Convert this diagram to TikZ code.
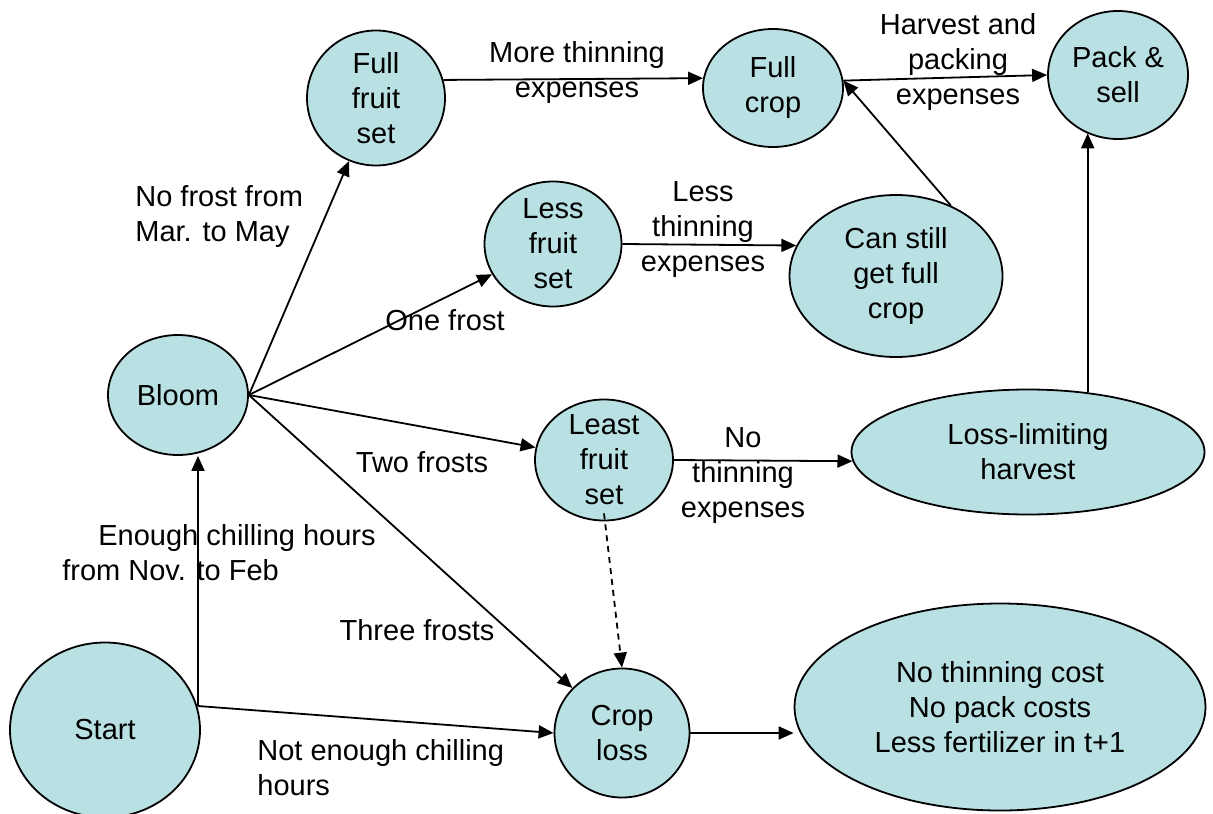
\documentclass[tikz,border=0pt]{standalone}
\usepackage{fontspec}
\setmainfont{Liberation Sans}
\usepackage{xcolor}
\usetikzlibrary{arrows.meta,shapes.geometric,positioning,calc}
\definecolor{stagefill}{RGB}{185,224,227}
\tikzset{%
  % classes
  stage/.style={draw, ellipse, fill=stagefill, line width=0.9pt, align=center,
    inner sep=-10pt, font=\fontsize{14.5}{17.5}\selectfont},
  lbl/.style={align=center, inner sep=0pt, font=\fontsize{14.5}{17.5}\selectfont},
  % edge styles
  rel/.style={-{Triangle[length=7.5pt,width=6.5pt]}, line width=0.9pt},
  maybe/.style={rel, dash pattern=on 3pt off 2.5pt},
}
\begin{document}
\begin{tikzpicture}[x=0.5pt, y=-0.5pt]
  \useasboundingbox (0,0) rectangle (1213,813);

  \node[stage, minimum width=95pt, minimum height=87.5pt] (start) at (105,730) {Start};
  \node[stage, minimum width=70pt, minimum height=60pt] (bloom) at (178,395) {Bloom};
  \node[stage, minimum width=69pt, minimum height=67.5pt] (fullset) at (376,98) {Full\\fruit\\set};
  \node[stage, minimum width=70pt, minimum height=59pt] (fullcrop) at (773,88) {Full\\crop};
  \node[stage, minimum width=70pt, minimum height=64pt] (pack) at (1118,75) {Pack \&\\sell};
  \node[stage, minimum width=68.5pt, minimum height=62.5pt] (lessset) at (553,244) {Less\\fruit\\set};
  \node[stage, minimum width=106.5pt, minimum height=81pt] (canstill) at (896,276) {Can still\\get full\\crop};
  \node[stage, minimum width=69pt, minimum height=60.5pt] (leastset) at (604,460) {Least\\fruit\\set};
  \node[stage, minimum width=176.5pt, minimum height=62.5pt] (losslim) at (1028,452) {Loss-limiting\\harvest};
  \node[stage, minimum width=67.5pt, minimum height=64.5pt] (croploss) at (622,733) {Crop\\loss};
  \node[stage, minimum width=205.5pt, minimum height=103.5pt] (nocost) at (1000,707)
    {No thinning cost\\No pack costs\\Less fertilizer in t+1};

  \coordinate (fork) at (198,706);

  % edges
  \draw[rel] (fork) -- (fork |- bloom.south);
  \draw[rel] (fork) -- (croploss.west);
  \draw[rel] (bloom.east) -- (fullset);
  \draw[rel] (bloom.east) -- (lessset);
  \draw[rel] (bloom.east) -- (leastset);
  \draw[rel] (bloom.east) -- (croploss);
  \draw[rel] (fullset.15) -- (fullcrop.172);
  \draw[rel] (lessset.east) -- (canstill.163);
  \draw[rel] (canstill.52) -- (fullcrop.6);
  \draw[rel] (fullcrop.6) -- (pack.west);
  \draw[rel] (leastset.east) -- (losslim.183);
  \draw[rel] (losslim.45) -- (losslim.45 |- pack.-118);
  \draw[maybe] ([yshift=4pt]leastset.south) -- (croploss.north);
  \draw[rel] (croploss.east) -- (croploss.east -| nocost.west);

  % edge labels
  \node[lbl] (l-more) at (577,73) {More thinning\\expenses};
  \node[lbl] (l-harv) at (958,62) {Harvest and\\packing\\expenses};
  \node[lbl, anchor=west, align=left] (l-nofrost) at (135,217) {No frost from\\Mar. to May};
  \node[lbl] (l-less) at (703,230) {Less\\thinning\\expenses};
  \node[lbl] (l-one) at (445,320) {One frost};
  \node[lbl] (l-two) at (422,462) {Two frosts};
  \node[lbl] (l-none) at (743,476) {No\\thinning\\expenses};
  \node[lbl, anchor=west, align=left] (l-chill) at (62,553) {\hspace*{18pt}Enough chilling hours\\from Nov. to Feb};
  \node[lbl] (l-three) at (417,630) {Three frosts};
  \node[lbl, anchor=west, align=left] (l-notchill) at (257,768) {Not enough chilling\\hours};
\end{tikzpicture}
\end{document}
